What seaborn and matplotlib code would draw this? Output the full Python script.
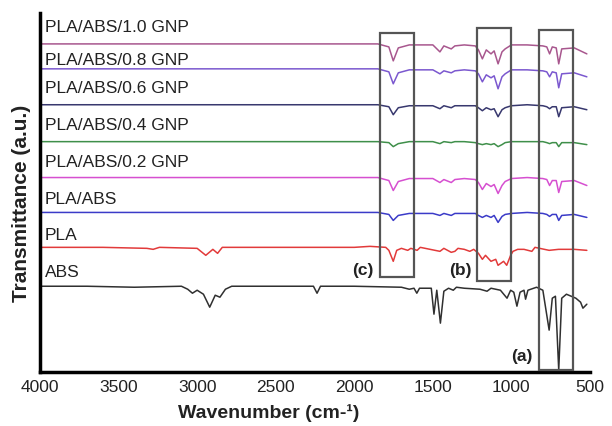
import matplotlib
matplotlib.use("Agg")
import matplotlib.pyplot as plt
import seaborn as sns
import pandas as pd
from matplotlib.patches import Rectangle

sns.set_theme(style="white")
plt.rcParams['font.family'] = ['Liberation Sans', 'DejaVu Sans']

# ---------------- data ----------------
series_names = ["ABS", "PLA", "PLA/ABS", "PLA/ABS/0.2 GNP", "PLA/ABS/0.4 GNP",
                "PLA/ABS/0.6 GNP", "PLA/ABS/0.8 GNP", "PLA/ABS/1.0 GNP"]
series_colors = ["#303030", "#e23a3a", "#3b3bc8", "#d64fd0", "#3f8f4a",
                 "#38386e", "#7b58cf", "#a8578e"]
# vertical offset (baseline) of each stacked spectrum, arbitrary units
baselines = [86, 125, 160, 195, 231, 268, 304, 329]
# label vertical positions
label_y = [100, 137, 173, 210, 247, 284, 312, 345]

abs_wn = [4000, 3700, 3400, 3100, 3060, 3030, 3000, 2960, 2920, 2885, 2855, 2820,
          2780, 2500, 2260, 2237, 2215, 2000, 1700, 1650, 1620, 1602, 1585, 1510,
          1493, 1475, 1452, 1430, 1400, 1370, 1350, 1300, 1200, 1155, 1130, 1070,
          1028, 1005, 985, 965, 945, 920, 910, 895, 840, 800, 760, 740, 720, 699,
          680, 650, 620, 590, 560, 545, 520]
abs_val = [0, 0, -1, 0, -3, -7, -4, -8, -21, -9, -11, -3,
           0, 0, 0, -7, 0, 0, -1, -3, -2, -7, -2, -2,
           -28, -4, -37, -5, -2, -4, -1, -2, -3, -5, -2, -4,
           -12, -4, -6, -20, -6, -4, -13, -4, -1, -4, -44, -12, -10, -84,
           -12, -8, -10, -12, -16, -22, -18]

pla_wn = [4000, 3600, 3320, 3280, 3240, 3000, 2945, 2900, 2870, 2840, 2000, 1900,
          1800, 1780, 1752, 1730, 1700, 1660, 1640, 1600, 1580, 1455, 1430, 1383,
          1360, 1340, 1300, 1265, 1240, 1210, 1185, 1165, 1130, 1100, 1085, 1050,
          1030, 1005, 990, 960, 920, 870, 850, 760, 700, 600, 520]
pla_val = [0, 0, -1, -2, 0, -1, -8, -2, -6, 0, 0, 1,
           0, -3, -14, -3, -1, -3, -1, -3, 0, -4, -1, -5,
           -4, -1, -2, -4, -2, -6, -12, -8, -14, -12, -18, -14,
           -18, -8, -4, -2, -2, -4, 0, -3, -2, -2, -3]

blend_wn = [4000, 3500, 3000, 2500, 2000, 1850, 1780, 1752, 1720, 1650, 1500, 1455,
            1430, 1383, 1360, 1300, 1230, 1210, 1185, 1160, 1130, 1110, 1085, 1060,
            1040, 1000, 900, 800, 775, 757, 740, 715, 699, 680, 600, 520]
plaabs_val = [0, 0, 0, 0, 0, 0, -2, -8, -3, -1, -1, -3, -1, -3, -1, -1, -1, -3,
              -5, -3, -5, -3, -10, -4, -2, -1, 0, -1, -2, -4, -2, -2, -8, -3, -2, -5]
gnp02_val = [0, 0, 0, 0, 0, 0, -3, -13, -4, -1, -1, -5, -2, -5, -2, -1, -2, -5,
             -12, -6, -9, -7, -16, -8, -4, -1, 0, -1, -2, -8, -3, -3, -15, -4, -3, -8]
gnp04_val = [0, 0, 0, 0, 0, 0, -1, -5, -2, 0, 0, -2, 0, -1, 0, 0, -1, -2,
             -3, -2, -3, -2, -5, -3, -1, 0, 0, 0, -1, -2, -1, -1, -5, -1, -1, -3]
gnp06_val = [0, 0, 0, 0, 0, 0, -2, -10, -3, -1, -1, -4, -1, -3, -1, -1, -1, -3,
             -6, -3, -5, -4, -12, -5, -3, -1, 0, -1, -2, -4, -2, -2, -12, -3, -2, -5]
gnp08_val = [0, 0, 0, 0, 0, 0, -3, -15, -4, -1, -1, -5, -2, -4, -2, -1, -2, -5,
             -13, -6, -9, -7, -20, -8, -5, -1, -1, -2, -3, -8, -3, -4, -19, -5, -4, -8]
gnp10_val = [0, 0, 0, 0, 0, 0, -3, -17, -4, -1, -1, -8, -2, -5, -2, -1, -2, -6,
             -15, -6, -10, -7, -20, -8, -5, -1, -1, -2, -3, -10, -3, -4, -20, -5, -4, -10]

spectra_wn = [abs_wn, pla_wn, blend_wn, blend_wn, blend_wn, blend_wn, blend_wn, blend_wn]
spectra_val = [abs_val, pla_val, plaabs_val, gnp02_val, gnp04_val, gnp06_val,
               gnp08_val, gnp10_val]

# highlighted regions (wavenumber from, to, y bottom, y top) and their labels
box_labels = ["(a)", "(b)", "(c)"]
box_wn = [(825, 608), (1220, 1003), (1835, 1620)]
box_y = [(2, 343), (91, 345), (95, 340)]
box_label_pos = [(932, 16), (1327, 102), (1944, 102)]

x_ticks = [4000, 3500, 3000, 2500, 2000, 1500, 1000, 500]

# ---------------- plot ----------------
fig = plt.figure(figsize=(6.12, 4.26), dpi=100)
ax = fig.add_axes([40 / 612, 54 / 426, 550 / 612, 359 / 426])

frames = []
for name, wn, val, base in zip(series_names, spectra_wn, spectra_val, baselines):
    frames.append(pd.DataFrame({"wavenumber": wn,
                                "signal": [base + v for v in val],
                                "series": name}))
df = pd.concat(frames, ignore_index=True)

sns.lineplot(data=df, x="wavenumber", y="signal", hue="series",
             hue_order=series_names, palette=series_colors, sort=False,
             estimator=None, linewidth=1.1, legend=False, ax=ax)

for name, y in zip(series_names, label_y):
    ax.text(3968, y, name, fontsize=12.5, color="#222222", va="center", ha="left")

for (w0, w1), (y0, y1) in zip(box_wn, box_y):
    ax.add_patch(Rectangle((w1, y0), w0 - w1, y1 - y0, fill=False,
                           edgecolor="#555555", linewidth=1.6, zorder=5))
for lab, (wx, wy) in zip(box_labels, box_label_pos):
    ax.text(wx, wy, lab, fontsize=12.5, fontweight="bold", color="#222222",
            ha="center", va="center")

ax.set_xlim(4000, 500)
ax.set_ylim(0, 360)
ax.set_xticks(x_ticks)
ax.set_xticklabels([str(t) for t in x_ticks], fontsize=12.5, color="#222222")
ax.set_yticks([])
ax.tick_params(axis="x", direction="in", length=4, width=1, color="#888888", pad=6)

ax.set_xlabel("Wavenumber (cm-\u00b9)", fontsize=14, fontweight="bold", color="#222222")
ax.xaxis.set_label_coords(0.415, -0.09)
ax.set_ylabel("Transmittance (a.u.)", fontsize=15, fontweight="bold", color="#222222")
ax.yaxis.set_label_coords(-0.016, 0.47)

for side in ["top", "right"]:
    ax.spines[side].set_visible(False)
for side in ["left", "bottom"]:
    ax.spines[side].set_linewidth(2.5)
    ax.spines[side].set_color("black")

fig.savefig("out.png", dpi=100)
